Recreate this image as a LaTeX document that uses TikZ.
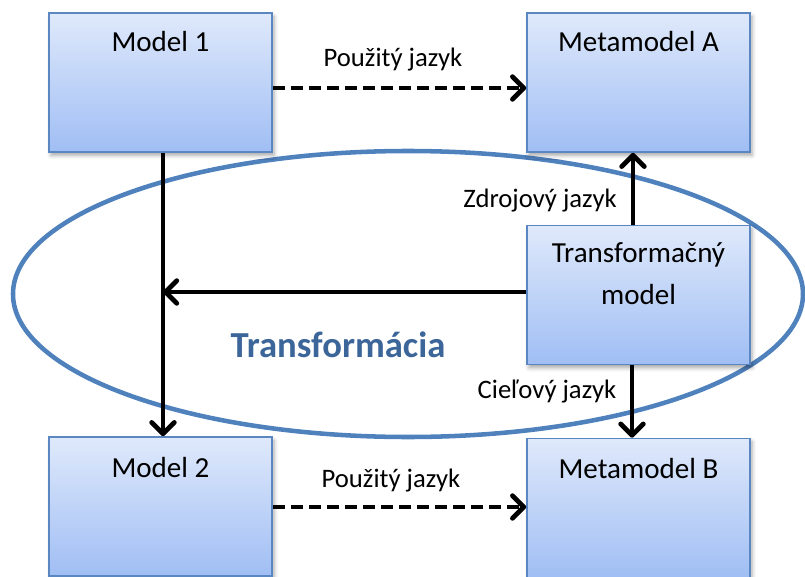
\documentclass[tikz,border=0pt]{standalone}
\usepackage{fontspec}
\setmainfont{Carlito}
\usetikzlibrary{arrows.meta,shadows.blur,calc}
\definecolor{boxtop}{HTML}{DFE9FB}
\definecolor{boxbot}{HTML}{A0BEF4}
\definecolor{boxline}{HTML}{5A86C2}
\definecolor{ringblue}{HTML}{4F81BD}
\definecolor{titleblue}{HTML}{3C6699}

\begin{document}
\begin{tikzpicture}[x=0.75pt,y=-0.75pt,
  panel/.style={draw=boxline, line width=1.2pt, top color=boxtop, bottom color=boxbot,
    minimum width=167.25pt, minimum height=104.25pt, inner sep=0pt,
    blur shadow={shadow xshift=1.5pt, shadow yshift=-2.5pt, shadow blur radius=3pt, shadow opacity=35}},
  paneltext/.style={font=\fontsize{21.8}{31.5}\selectfont, inner sep=0pt, align=center},
  tag/.style={font=\fontsize{20}{24}\selectfont, anchor=base, inner sep=0pt},
  flow/.style={line width=3.6pt, -{Straight Barb[length=8.5pt,width=17pt,line cap=round,line join=round]}},
  uses/.style={flow, dash pattern=on 9pt off 4.5pt}
]
\useasboundingbox (0,0) rectangle (805,577);

% transformation ring
\draw[ringblue, line width=3.4pt] (408,294) ellipse [x radius=395, y radius=143];
\node[font=\fontsize{27.5}{32}\selectfont\bfseries, text=titleblue, anchor=base, inner sep=0pt]
  (ttl) at (338,357) {Transformácia};

% boxes
\node[panel] (m1) at (160.5,82.5) {};
\node[panel] (ma) at (638.5,82.5) {};
\node[panel] (tm) at (638.5,295) {};
\node[panel] (m2) at (160.5,506.5) {};
\node[panel] (mb) at (638.5,508) {};

\node[paneltext, anchor=base] (m1t) at (160.5,52) {Model 1};
\node[paneltext, anchor=base] (mat) at (638.5,52) {Metamodel A};
\node[paneltext, anchor=north] (tmt) at (638.5,242) {Transformačný\\model};
\node[paneltext, anchor=base] (m2t) at (160.5,477) {Model 2};
\node[paneltext, anchor=base] (mbt) at (638.5,478) {Metamodel B};

% connector routing points
\coordinate (join) at (163,292);
\coordinate (upx) at (633,0);
\coordinate (dnx) at (632,0);
\coordinate (toprow) at (0,88);
\coordinate (botrow) at (0,507);

% arrows
\draw[flow] (m1.south -| join) -- (m2.north -| join);
\draw[flow] (tm.west |- join) -- (join);
\draw[flow] (tm.north -| upx) -- (ma.south -| upx);
\draw[flow] (tm.south -| dnx) -- (mb.north -| dnx);
\draw[uses] (m1.east |- toprow) -- (ma.west |- toprow);
\draw[uses] (m2.east |- botrow) -- (mb.west |- botrow);

% labels
\node[tag] (l1) at (393,67) {Použitý jazyk};
\node[tag] (l2) at (391,487) {Použitý jazyk};
\node[tag] (l3) at (540,208) {Zdrojový jazyk};
\node[tag] (l4) at (547,398) {Cieľový jazyk};
\end{tikzpicture}
\end{document}
